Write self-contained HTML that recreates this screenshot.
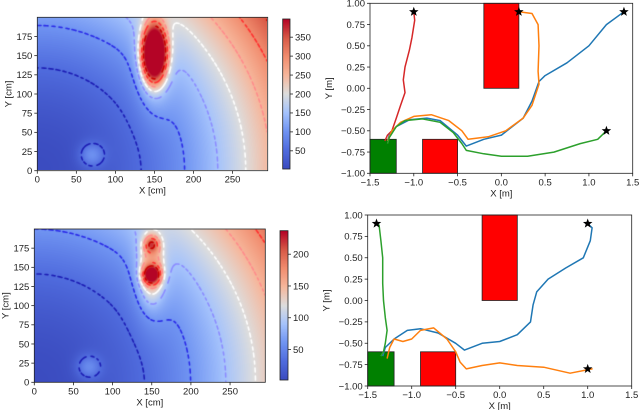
<!DOCTYPE html>
<html><head><meta charset="utf-8">
<style>
html,body{margin:0;padding:0;background:#fff;}
#root{position:relative;width:640px;height:410px;overflow:hidden;font-family:"Liberation Sans","DejaVu Sans",sans-serif;}
canvas{position:absolute;}
svg{position:absolute;left:0;top:0;}
</style></head>
<body>
<div id="root">
<canvas id="hm1"></canvas>
<canvas id="hm2"></canvas>
<canvas id="cb1"></canvas>
<canvas id="cb2"></canvas>
<svg id="svg" width="640" height="410"></svg>
</div>
<script>
// ---------- data ----------
const hmXTicks = [0,50,100,150,200,250];
const hmYTicks = [0,25,50,75,100,125,150,175];
const cb1Ticks = [50,100,150,200,250,300,350];
const cb2Ticks = [50,100,150,200];
const trXTicks = [-1.5,-1.0,-0.5,0.0,0.5,1.0,1.5];
const trYTicks = [-1.0,-0.75,-0.5,-0.25,0.0,0.25,0.5,0.75,1.0];
const obstacles = [[-0.2,0.2,0,1,'red'],[-0.9,-0.5,-1,-0.6,'red'],[-1.5,-1.2,-1,-0.6,'green']];
const top1Red = [[-1.0,0.9],[-0.99,0.8],[-1.02,0.6],[-1.05,0.45],[-1.1,0.25],[-1.12,0.1],[-1.1,-0.05],[-1.15,-0.2],[-1.2,-0.35],[-1.25,-0.5],[-1.3,-0.55],[-1.33,-0.62]];
const top1Orange = [[0.2,0.9],[0.35,0.88],[0.42,0.75],[0.43,0.5],[0.42,0.2],[0.43,0.05],[0.35,-0.2],[0.25,-0.35],[0.05,-0.5],[-0.15,-0.57],[-0.38,-0.6],[-0.45,-0.5],[-0.6,-0.38],[-0.8,-0.31],[-1.0,-0.33],[-1.15,-0.4],[-1.25,-0.5],[-1.3,-0.62]];
const top1Blue = [[1.4,0.9],[1.2,0.75],[1.0,0.5],[0.75,0.3],[0.5,0.15],[0.43,0.08],[0.35,-0.15],[0.25,-0.35],[0.0,-0.55],[-0.2,-0.6],[-0.4,-0.68],[-0.5,-0.55],[-0.7,-0.38],[-0.85,-0.35],[-1.05,-0.37],[-1.2,-0.45],[-1.28,-0.55],[-1.3,-0.62]];
const top1Green = [[1.2,-0.5],[1.1,-0.6],[0.9,-0.65],[0.6,-0.75],[0.3,-0.8],[0.0,-0.8],[-0.2,-0.77],[-0.4,-0.73],[-0.45,-0.65],[-0.55,-0.52],[-0.7,-0.4],[-0.9,-0.36],[-1.1,-0.38],[-1.2,-0.45],[-1.28,-0.58],[-1.3,-0.65]];
const top1Stars = [[-1.0,0.9],[0.2,0.9],[1.4,0.9],[1.2,-0.5]];
const bot2Green = [[-1.4,0.9],[-1.37,0.88],[-1.35,0.7],[-1.33,0.5],[-1.33,0.2],[-1.32,0.0],[-1.3,-0.2],[-1.28,-0.35],[-1.3,-0.5],[-1.32,-0.6],[-1.35,-0.65]];
const bot2Blue = [[1.0,0.9],[1.05,0.85],[1.03,0.7],[0.95,0.5],[0.75,0.38],[0.55,0.25],[0.42,0.1],[0.38,-0.05],[0.35,-0.25],[0.2,-0.4],[0.0,-0.48],[-0.2,-0.5],[-0.4,-0.58],[-0.5,-0.5],[-0.7,-0.38],[-0.9,-0.33],[-1.05,-0.35],[-1.2,-0.45],[-1.3,-0.55],[-1.33,-0.65]];
const bot2Orange = [[1.0,-0.8],[1.05,-0.8],[0.8,-0.85],[0.5,-0.78],[0.2,-0.76],[0.0,-0.73],[-0.2,-0.76],[-0.38,-0.8],[-0.45,-0.72],[-0.5,-0.6],[-0.6,-0.45],[-0.75,-0.32],[-0.9,-0.35],[-1.0,-0.45],[-1.1,-0.48],[-1.2,-0.45],[-1.25,-0.55],[-1.28,-0.68]];
const bot2Stars = [[-1.4,0.9],[1.0,0.9],[1.0,-0.8]];
const levels1 = [50,100,150,200,250,300,350];
const levels2 = [30,60,90,120,150,180,210];
const levelColors = ['#1c1cb4','#2a2ae8','#8c8cff','#ffffff','#ff8c8c','#ff3030','#c80000'];

const NS='http://www.w3.org/2000/svg';
const svg=document.getElementById('svg');
function el(tag,attrs,parent){const e=document.createElementNS(NS,tag);for(const k in attrs)e.setAttribute(k,attrs[k]);(parent||svg).appendChild(e);return e;}
function lin(d0,d1,p0,p1){return v=>p0+(v-d0)/(d1-d0)*(p1-p0);}

const cw=[[0,59,76,192],[0.125,80,108,222],[0.25,112,148,242],[0.375,165,195,252],[0.5,221,221,221],[0.625,246,183,156],[0.75,241,141,111],[0.875,216,90,71],[1,180,4,38]];
function coolwarm(t){t=Math.max(0,Math.min(1,t));for(let i=1;i<cw.length;i++){if(t<=cw[i][0]){const a=cw[i-1],b=cw[i],f=(t-a[0])/(b[0]-a[0]);return[a[1]+f*(b[1]-a[1]),a[2]+f*(b[2]-a[2]),a[3]+f*(b[3]-a[3])];}}return cw[cw.length-1].slice(1);}

function field1(x,y){const r2=x*x+y*y;let f=0.0028*r2;
 const dx=(x-150)/17,dy=(y-152)/40;f+=310*Math.exp(-Math.pow(dx*dx+dy*dy,1.4));
 const bx=(x-150)/22,by=(y-140)/60;f+=80*Math.exp(-(bx*bx+by*by));
 const gx=(x-70)/16,gy=(y-20)/16;f+=80*Math.exp(-(gx*gx+gy*gy));return f;}
function field2(x,y){const r2=x*x+y*y;let f=0.0015*r2;
 let dx=(x-150)/11,dy=(y-140)/12;f+=140*Math.exp(-(dx*dx+dy*dy));
 dx=(x-150)/10;dy=(y-180)/11;f+=80*Math.exp(-(dx*dx+dy*dy));
 dx=(x-150)/16;dy=(y-148)/42;f+=50*Math.exp(-Math.pow(dx*dx+dy*dy,1.5));
 const bx=(x-150)/22,by=(y-140)/60;f+=40*Math.exp(-(bx*bx+by*by));
 const gx=(x-70)/16,gy=(y-20)/16;f+=45*Math.exp(-(gx*gx+gy*gy));return f;}

function heatmap(id,box,field,vmax,levels){
 const c=document.getElementById(id);const W=Math.round(box.x1-box.x0),H=Math.round(box.y1-box.y0);
 c.width=W;c.height=H;c.style.left=box.x0+'px';c.style.top=box.y0+'px';
 const ctx=c.getContext('2d');const img=ctx.createImageData(W,H);
 const sx=lin(box.x0,box.x1,0,295),sy=lin(box.y1,box.y0,0,200);
 for(let j=0;j<H;j++)for(let i=0;i<W;i++){const v=field(sx(box.x0+i+0.5),sy(box.y0+j+0.5));const col=coolwarm(v/vmax);const k=(j*W+i)*4;img.data[k]=col[0];img.data[k+1]=col[1];img.data[k+2]=col[2];img.data[k+3]=255;}
 ctx.putImageData(img,0,0);
 const nx=W+1,ny=H+1;const g=[];
 for(let j=0;j<ny;j++){g[j]=[];for(let i=0;i<nx;i++)g[j][i]=field(sx(box.x0+i),sy(box.y0+j));}
 ctx.lineWidth=1.6;ctx.lineCap='round';
 levels.forEach((L,li)=>{ctx.strokeStyle=levelColors[li];ctx.beginPath();
  for(let j=0;j<ny-1;j++)for(let i=0;i<nx-1;i++){
   const a=g[j][i],b=g[j][i+1],cc=g[j+1][i+1],d=g[j+1][i];const pts=[];
   if((a-L)*(b-L)<0)pts.push([i+(L-a)/(b-a),j]);
   if((b-L)*(cc-L)<0)pts.push([i+1,j+(L-b)/(cc-b)]);
   if((d-L)*(cc-L)<0)pts.push([i+(L-d)/(cc-d),j+1]);
   if((a-L)*(d-L)<0)pts.push([i,j+(L-a)/(d-a)]);
   for(let p=0;p+1<pts.length;p+=2){const mx=(pts[p][0]+pts[p+1][0])/2,my=(pts[p][1]+pts[p+1][1])/2;
    if(((Math.floor((mx+my)/4))%2+2)%2===0){ctx.moveTo(pts[p][0],pts[p][1]);ctx.lineTo(pts[p+1][0],pts[p+1][1]);}}
  }ctx.stroke();});
}
function colorbar(id,x0,y0,w,h){const c=document.getElementById(id);c.width=w;c.height=h;c.style.left=x0+'px';c.style.top=y0+'px';
 const ctx=c.getContext('2d');for(let j=0;j<h;j++){const col=coolwarm(1-j/(h-1));ctx.fillStyle='rgb('+col.map(Math.round).join(',')+')';ctx.fillRect(0,j,w,1);}}

function txt(x,y,s,anchor,name,extra){const t=el('text',Object.assign({x:x,y:y,'font-size':'9.5','text-anchor':anchor,fill:'#222'},extra||{}));t.textContent=s;return t;}
function fmt(v,d){return (v<0?'\u2212':'')+Math.abs(v).toFixed(d);}

function axesFrame(box,name){const r=el('rect',{x:box.x0,y:box.y0,width:box.x1-box.x0,height:box.y1-box.y0,fill:'none',stroke:'#222','stroke-width':0.8});}
function xTicks(box,ticks,sx,dec,name){ticks.forEach(v=>{const x=sx(v);const l=el('line',{x1:x,x2:x,y1:box.y1,y2:box.y1+3,stroke:'#222','stroke-width':0.8});txt(x,box.y1+12,fmt(v,dec),'middle',name+'-label');});}
function yTicks(box,ticks,sy,dec,name,right){ticks.forEach(v=>{const y=sy(v);const x=right?box.x1:box.x0;const l=el('line',{x1:x,x2:right?x+3:x-3,y1:y,y2:y,stroke:'#222','stroke-width':0.8});txt(right?x+5:x-5,y+3.3,fmt(v,dec),right?'start':'end',name+'-label');});}
function yTitle(x,y,s,name){txt(x,y,s,'middle',name,{transform:'rotate(-90 '+x+' '+y+')'});}

const H1={x0:37.3,x1:267.7,y0:17.3,y1:170.7};
const H2={x0:34.3,x1:265.3,y0:229,y1:382.3};
heatmap('hm1',H1,field1,398,levels1);
heatmap('hm2',H2,field2,237,levels2);
[[H1,'top'],[H2,'bottom']].forEach(([B,n])=>{
 const sx=lin(0,295,B.x0,B.x1),sy=lin(0,200,B.y1,B.y0);
 axesFrame(B,'heatmap-'+n+'-frame');xTicks(B,hmXTicks,sx,0,'heatmap-'+n+'-x');yTicks(B,hmYTicks,sy,0,'heatmap-'+n+'-y');
 txt((B.x0+B.x1)/2,B.y1+23,'X [cm]','middle','heatmap-'+n+'-x-title');yTitle(B.x0-26,(B.y0+B.y1)/2,'Y [cm]','heatmap-'+n+'-y-title');
});
const C1={x0:282.7,x1:290,y0:19,y1:169},C2={x0:280,x1:288,y0:230.7,y1:380};
colorbar('cb1',C1.x0,C1.y0,7,150);colorbar('cb2',C2.x0,C2.y0,8,149);
axesFrame(C1,'colorbar-top-frame');axesFrame(C2,'colorbar-bottom-frame');
yTicks(C1,cb1Ticks,lin(2,398,C1.y1,C1.y0),0,'colorbar-top',true);
yTicks(C2,cb2Ticks,lin(2,237,C2.y1,C2.y0),0,'colorbar-bottom',true);

const T1={x0:370,x1:632.7,y0:3.3,y1:173.3};
const T2={x0:367.7,x1:631.7,y0:215,y1:386};
function star(cx,cy,r){let p='';for(let k=0;k<10;k++){const rr=k%2?r*0.42:r;const a=-Math.PI/2+k*Math.PI/5;p+=(k?'L':'M')+(cx+rr*Math.cos(a)).toFixed(2)+','+(cy+rr*Math.sin(a)).toFixed(2);}return p+'Z';}
function trajPanel(B,series,stars,n){
 const sx=lin(-1.5,1.5,B.x0,B.x1),sy=lin(-1,1,B.y1,B.y0);
 obstacles.forEach((o,i)=>{const r=el('rect',{x:sx(o[0]),y:sy(o[3]),width:sx(o[1])-sx(o[0]),height:sy(o[2])-sy(o[3]),fill:o[4]==='red'?'#ff0000':'#008000',stroke:'#222','stroke-width':0.8});});
 series.forEach(([data,color,name])=>{const p=el('path',{d:data.map((q,i)=>(i?'L':'M')+sx(q[0]).toFixed(1)+','+sy(q[1]).toFixed(1)).join(''),fill:'none',stroke:color,'stroke-width':1.5,'stroke-linejoin':'round'});});
 stars.forEach((s,i)=>{const p=el('path',{d:star(sx(s[0]),sy(s[1]),5),fill:'#000'});});
 axesFrame(B,n+'-frame');xTicks(B,trXTicks,sx,1,n+'-x');yTicks(B,trYTicks,sy,2,n+'-y');
 txt((B.x0+B.x1)/2,B.y1+23,'X [m]','middle',n+'-x-title');yTitle(B.x0-38,(B.y0+B.y1)/2,'Y [m]',n+'-y-title');
}
trajPanel(T1,[[top1Red,'#d62728','red'],[top1Blue,'#1f77b4','blue'],[top1Orange,'#ff7f0e','orange'],[top1Green,'#2ca02c','green']],top1Stars,'traj-top');
trajPanel(T2,[[bot2Blue,'#1f77b4','blue'],[bot2Orange,'#ff7f0e','orange'],[bot2Green,'#2ca02c','green']],bot2Stars,'traj-bottom');
</script>
</body></html>
